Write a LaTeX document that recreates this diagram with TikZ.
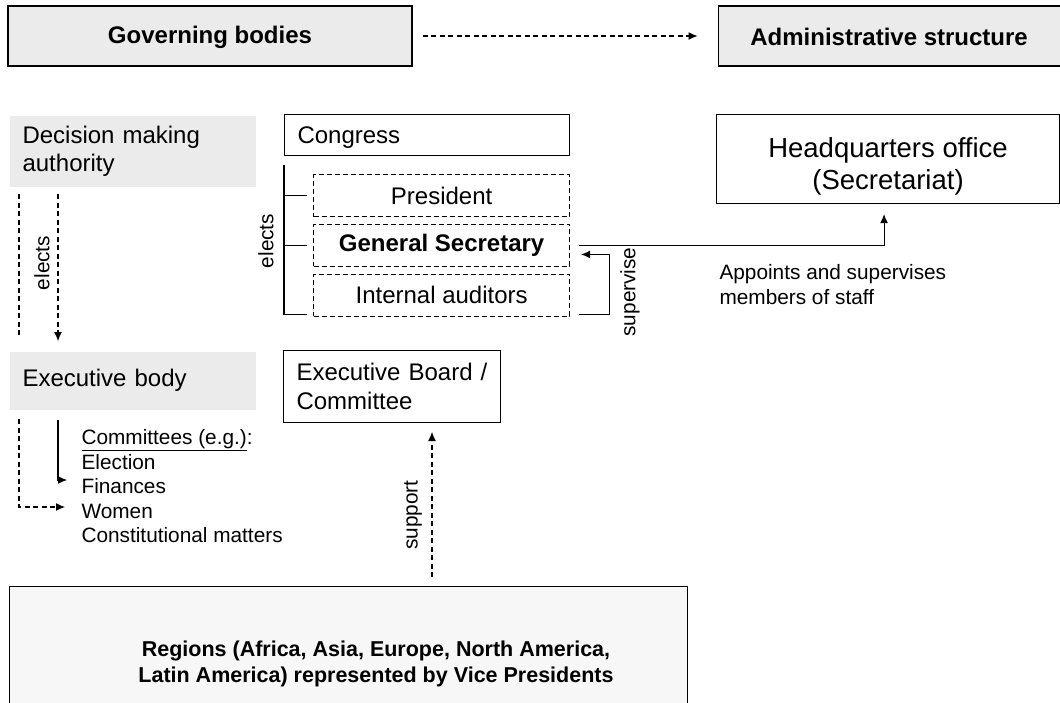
\documentclass[tikz,border=0pt]{standalone}
\usepackage{fontspec}
\setmainfont{Liberation Sans}
\usetikzlibrary{arrows.meta,positioning}
\definecolor{panelgray}{HTML}{EBEBEB}
\definecolor{regiongray}{HTML}{F7F7F7}
\newcommand{\bigtext}{\fontsize{24}{28.5}\selectfont}
\newcommand{\smalltext}{\fontsize{20.8}{24.5}\selectfont}
\newcommand{\hqtext}{\fontsize{27.5}{32}\selectfont}
\newcommand{\regtext}{\fontsize{21.5}{26}\selectfont\bfseries}
\tikzset{%
  >={Latex[width=8pt,length=9pt]},
  % Specifications for style of nodes:
            base/.style = {rectangle, draw=black, line width=1.1pt, inner sep=0pt,
                           font=\bigtext},
       headbox/.style = {base, fill=panelgray, minimum height=60pt,
                           font=\bigtext\bfseries},
      levelbox/.style = {rectangle, fill=panelgray, anchor=north west,
                           inner xsep=13pt, inner ysep=0pt, align=left, font=\bigtext},
       bodybox/.style = {base, anchor=north west, inner xsep=13pt, align=left},
     officebox/.style = {base, dash pattern=on 5pt off 3pt, line width=0.9pt,
                           minimum width=256pt, minimum height=42pt},
          note/.style = {inner sep=0pt, align=left, font=\smalltext},
      dashlink/.style = {dash pattern=on 5pt off 3.5pt},
}

\begin{document}
\begin{tikzpicture}[x=1pt, y=-1pt, node distance=7pt, line width=1.1pt]
  \useasboundingbox (0,0) rectangle (1060,702);
  % Specification of nodes (position, etc.)

  \node (gov)           [headbox, minimum width=404pt] at (210,36) {\rule{0pt}{20pt}Governing bodies};
  \node (admin)         [headbox, minimum width=342pt, right=305pt of gov] {\rule{0pt}{20pt}Administrative structure};

  \node (decision)      [levelbox, minimum height=71pt, text width=220pt] at (9,115) {Decision making\\authority};
  \node (execbody)      [levelbox, minimum height=58pt, text width=220pt] at (9,351) {Executive body};

  \node (congress)      [bodybox, minimum height=41pt, text width=259pt] at (284,114) {\rule{0pt}{21pt}Congress};
  \node (president)     [officebox, anchor=north east] at ([yshift=-18pt]congress.south east) {President};
  \node (gensec)        [officebox, below=of president, font=\bigtext\bfseries] {General Secretary};
  \node (auditors)      [officebox, below=of gensec] {Internal auditors};
  \node (board)         [bodybox, minimum height=72pt, text width=191pt] at (283,350) {Executive Board /\\Committee};

  \node (hq)            [base, font=\hqtext, align=center, minimum width=343pt, minimum height=89pt,
                         anchor=north west] at (716,114) {\rule{0pt}{34pt}Headquarters office\\(Secretariat)};
  \node (appoints)      [note, anchor=north west] at (719,264) {Appoints and supervises\\members of staff};
  \node (committees)    [note, anchor=north west] at (81,429)
                        {\underline{Committees (e.g.)}:\\Election\\Finances\\Women\\Constitutional matters};

  \node (regions)       [base, fill=regiongray, anchor=north west, minimum width=678pt,
                         minimum height=134pt] at (9,586) {};
  \node (regionstext)   [font=\regtext, align=center] at (376,664)
                        {Regions (Africa, Asia, Europe, North America,\\Latin America) represented by Vice Presidents};

  \node (electsleft)    [note, rotate=90] at (42,263) {elects};
  \node (electsright)   [note, rotate=90] at (266,241) {elects};
  \node (supervise)     [note, rotate=90] at (630,292) {supervise};
  \node (support)       [note, rotate=90] at (413,515) {support};

  \coordinate (fintip)  at (67,480);
  \coordinate (womtip)  at (65,507);
  \coordinate (suptip)  at (432,432);

  \draw[->, dashlink]   ([xshift=10pt]gov.east) -- ([xshift=-20pt]admin.west);
  \draw[dashlink]       ([xshift=10pt,yshift=-7pt]decision.south west) -- ([xshift=10pt,yshift=14pt]execbody.north west);
  \draw[->, dashlink]   ([xshift=49pt,yshift=-7pt]decision.south west) -- ([xshift=49pt,yshift=10pt]execbody.north west);
  \draw                 ([yshift=-9pt]congress.south west) |- ([xshift=-6pt,yshift=2pt]auditors.south west);
  \draw                 (congress.south west |- president.west) -- ([xshift=-6pt]president.west);
  \draw                 (congress.south west |- gensec.west) -- ([xshift=-6pt]gensec.west);
  \draw[->]             ([xshift=9pt]gensec.east) -| ([xshift=-4pt,yshift=-10pt]hq.south);
  \draw[->]             ([xshift=9pt,yshift=2pt]auditors.south east) -- ++(30,0) |- ([xshift=11pt,yshift=-9pt]gensec.east);
  \draw[->]             ([xshift=49pt,yshift=-10pt]execbody.south west) |- (fintip);
  \draw[->, dashlink]   ([xshift=10pt,yshift=-9pt]execbody.south west) |- (womtip);
  \draw[->, dashlink]   (regions.north -| suptip) ++(0,-9) -- (suptip);

\end{tikzpicture}
\end{document}
